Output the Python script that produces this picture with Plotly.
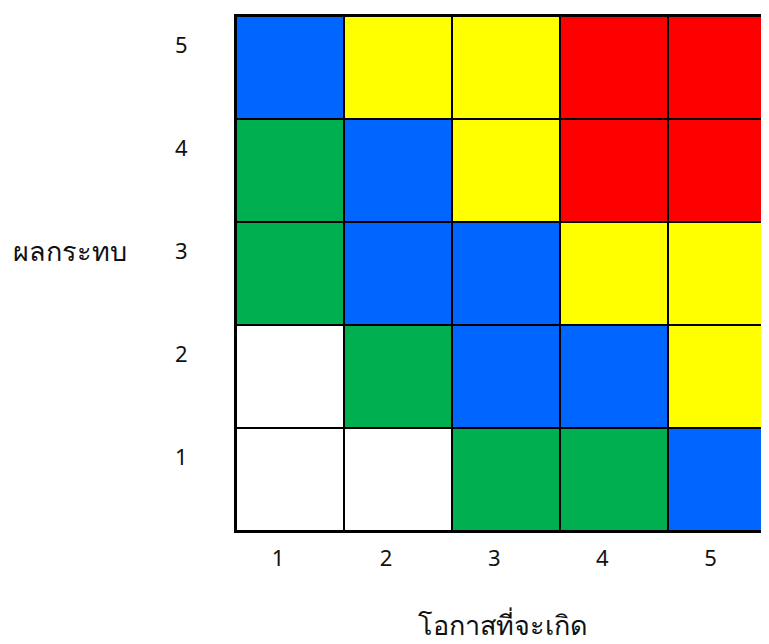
import plotly.graph_objects as go

likelihood = [1, 2, 3, 4, 5]
impact = [1, 2, 3, 4, 5]
# level codes: 0 white, 1 green, 2 blue, 3 yellow, 4 red  (rows: impact 1..5)
levels = [
    [0, 0, 1, 1, 2],
    [0, 1, 2, 2, 3],
    [1, 2, 2, 3, 3],
    [1, 2, 3, 4, 4],
    [2, 3, 3, 4, 4],
]
level_colors = ["#FFFFFF", "#00B050", "#0066FF", "#FFFF00", "#FF0000"]
x_title = "โอกาสที่จะเกิด"
y_title = "ผลกระทบ"

n = len(level_colors)
colorscale = []
for i, c in enumerate(level_colors):
    colorscale.append([i / n, c])
    colorscale.append([(i + 1) / n, c])

fig = go.Figure(go.Heatmap(
    x=likelihood, y=impact, z=levels,
    zmin=-0.5, zmax=n - 0.5,
    colorscale=colorscale, showscale=False,
    xgap=2, ygap=2, hoverinfo="skip",
))

font = dict(family="Tahoma, Noto Sans, DejaVu Sans, sans-serif", size=22, color="#111111")
title_font = dict(family="Tahoma, Noto Sans, DejaVu Sans, sans-serif", size=27, color="#111111")

# page body has an 8px default margin, so the figure is sized to fit the window
fig.update_layout(
    width=761, height=636,
    margin=dict(l=228, r=0, t=8, b=113),
    plot_bgcolor="#000000", paper_bgcolor="#FFFFFF",
    font=font,
    xaxis=dict(range=[0.5, 5.43], tickvals=likelihood, ticktext=[str(v) for v in likelihood],
               showgrid=False, zeroline=False, showline=True, mirror=True,
               linecolor="#000000", linewidth=2, ticks="",
               ticklabelshift=-12, ticklabelstandoff=7),
    yaxis=dict(range=[0.5, 5.5], tickvals=impact, ticktext=[str(v) for v in impact],
               showgrid=False, zeroline=False, showline=True, mirror=False,
               linecolor="#000000", linewidth=2, ticks="",
               ticklabelshift=-22, ticklabelstandoff=42),
    annotations=[
        dict(text=x_title, xref="paper", yref="paper", x=0.5, y=0, yshift=-93,
             showarrow=False, xanchor="center", yanchor="middle", font=title_font),
        dict(text=y_title, xref="paper", yref="paper", x=0, y=0.5, xshift=-166, yshift=23,
             showarrow=False, xanchor="center", yanchor="middle", font=title_font),
    ],
)

fig.write_html("out.html")
